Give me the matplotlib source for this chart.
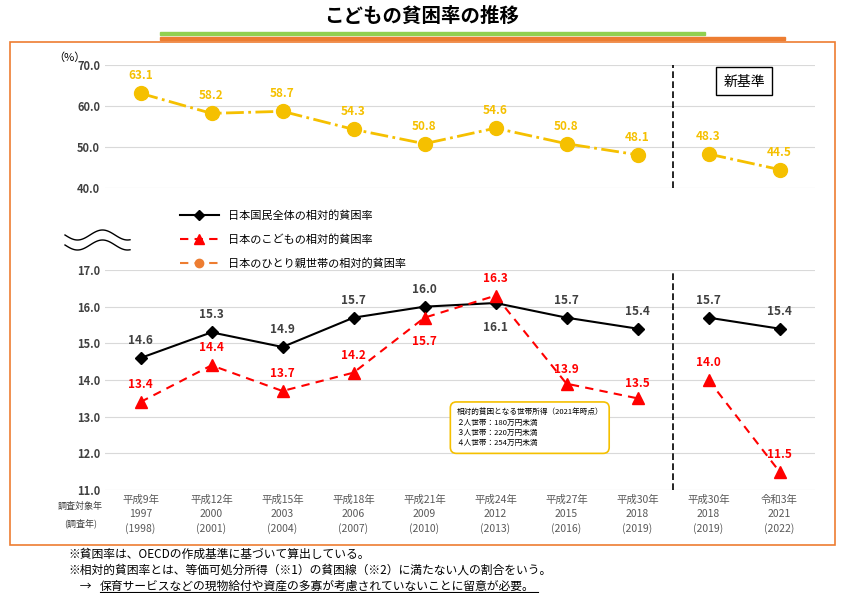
import numpy as np
import matplotlib.pyplot as plt
import matplotlib.patches as mpatches
from matplotlib.lines import Line2D

plt.rcParams["font.family"] = ["Noto Sans CJK JP", "DejaVu Sans"]

eras = ["平成9年", "平成12年", "平成15年", "平成18年", "平成21年", "平成24年",
        "平成27年", "平成30年", "平成30年", "令和3年"]
years = ["1997", "2000", "2003", "2006", "2009", "2012", "2015", "2018", "2018", "2021"]
surveys = ["(1998)", "(2001)", "(2004)", "(2007)", "(2010)", "(2013)",
           "(2016)", "(2019)", "(2019)", "(2022)"]
overall = [14.6, 15.3, 14.9, 15.7, 16.0, 16.1, 15.7, 15.4, 15.7, 15.4]
children = [13.4, 14.4, 13.7, 14.2, 15.7, 16.3, 13.9, 13.5, 14.0, 11.5]
single = [63.1, 58.2, 58.7, 54.3, 50.8, 54.6, 50.8, 48.1, 48.3, 44.5]


def main():
    fig = plt.figure(figsize=(8.43, 5.93), dpi=100)
    fig.patch.set_facecolor("white")
    x = np.arange(len(years))
    old, new = slice(0, 8), slice(8, 10)

    # frame and title
    fig.patches.append(mpatches.Rectangle((10 / 843, 1 - 545 / 593), 825 / 843, 503 / 593,
                                          transform=fig.transFigure, fill=False,
                                          edgecolor="#ED7D31", lw=1.2))
    fig.text(0.5, 1 - 16 / 593, "こどもの貧困率の推移", ha="center", va="center",
             fontsize=14, fontweight="bold")
    fig.patches.append(mpatches.Rectangle((160 / 843, 1 - 35 / 593), 545 / 843, 3 / 593,
                                          transform=fig.transFigure, color="#92D050"))
    fig.patches.append(mpatches.Rectangle((160 / 843, 1 - 40 / 593), 625 / 843, 3 / 593,
                                          transform=fig.transFigure, color="#ED7D31"))

    left, width = 105 / 843, 710 / 843
    ax1 = fig.add_axes([left, 1 - 188 / 593, width, 123 / 593])
    ax2 = fig.add_axes([left, 1 - 490 / 593, width, 220 / 593])

    for ax in (ax1, ax2):
        ax.set_xlim(-0.5, 9.5)
        for s in ax.spines.values():
            s.set_visible(False)
        ax.grid(axis="y", color="#D9D9D9", lw=0.8)
        ax.set_axisbelow(True)
        ax.tick_params(length=0, labelsize=8, colors="#404040")
        ax.axvline(7.5, color="black", ls=(0, (4, 2)), lw=1.2, clip_on=False)
    ax1.set_ylim(40, 70)
    ax1.set_yticks([40, 50, 60, 70])
    ax1.set_yticklabels(["40.0", "50.0", "60.0", "70.0"], fontweight="bold")
    ax1.set_xticks([])
    ax2.set_ylim(11, 17)
    ax2.set_yticks(range(11, 18))
    ax2.set_yticklabels([f"{v:.1f}" for v in range(11, 18)], fontweight="bold")
    ax2.set_xticks(x)
    ax2.set_xticklabels([f"{a}\n{b}\n{c}" for a, b, c in zip(eras, years, surveys)],
                        fontsize=7.5, color="#595959", linespacing=1.5)
    ax1.text(-0.05, 1.03, "（%）", transform=ax1.transAxes, fontsize=8, ha="center")

    gold = "#F5C000"
    for sl in (old, new):
        ax1.plot(x[sl], single[sl], color=gold, ls="-.", lw=2, marker="o", ms=10)
        ax2.plot(x[sl], overall[sl], color="black", lw=1.5, marker="D", ms=6)
        ax2.plot(x[sl], children[sl], color="#FF0000", ls=(0, (4, 3)), lw=1.5,
                 marker="^", ms=9)
    for i, v in enumerate(single):
        ax1.annotate(f"{v:.1f}", (i, v), xytext=(0, 10), textcoords="offset points",
                     ha="center", color=gold, fontsize=8.5, fontweight="bold")
    for i, v in enumerate(overall):
        dy = -20 if i == 5 else 10
        ax2.annotate(f"{v:.1f}", (i, v), xytext=(0, dy), textcoords="offset points",
                     ha="center", color="#404040", fontsize=8.5, fontweight="bold")
    for i, v in enumerate(children):
        dy = -20 if i == 4 else 10
        if i == 6 or i == 7:
            dy = 8
        ax2.annotate(f"{v:.1f}", (i, v), xytext=(0, dy), textcoords="offset points",
                     ha="center", color="#FF0000", fontsize=8.5, fontweight="bold")

    ax1.text(8.5, 66, "新基準", ha="center", va="center", fontsize=10,
             bbox=dict(boxstyle="square,pad=0.5", fc="white", ec="black"))
    ax2.text(4.45, 12.7, "相対的貧困となる世帯所得（2021年時点）\n２人世帯：180万円未満\n"
             "３人世帯：220万円未満\n４人世帯：254万円未満", fontsize=5.5, va="center",
             linespacing=1.4,
             bbox=dict(boxstyle="round,pad=0.8", fc="white", ec="#F5C000", lw=1.2))
    trans = ax2.get_xaxis_transform()
    ax2.text(-0.85, -0.075, "調査対象年", transform=trans, fontsize=6.5,
             ha="center", va="center", color="#404040")
    ax2.text(-0.85, -0.15, "(調査年)", transform=trans, fontsize=6.5,
             ha="center", va="center", color="#404040")

    # legend
    handles = [
        Line2D([], [], color="black", marker="D", ms=5, lw=1.5),
        Line2D([], [], color="#FF0000", marker="^", ms=7, ls=(0, (4, 3)), lw=1.5),
        Line2D([], [], color="#ED7D31", marker="o", ms=6, ls=(0, (4, 3)), lw=1.5),
    ]
    fig.legend(handles, ["日本国民全体の相対的貧困率", "日本のこどもの相対的貧困率",
                         "日本のひとり親世帯の相対的貧困率"],
               loc="upper left", bbox_to_anchor=(170 / 843, 1 - 200 / 593), frameon=False,
               fontsize=8, handlelength=3.5, labelspacing=1.2)
    t = np.linspace(0, 1, 100)
    for off in (0, 10):
        fig.add_artist(Line2D((65 + 65 * t) / 843,
                              1 - (235 + off + 5 * np.sin(t * 2 * np.pi * 1.3)) / 593,
                              color="black", lw=1))

    notes = ["※貧困率は、OECDの作成基準に基づいて算出している。",
             "※相対的貧困率とは、等価可処分所得（※1）の貧困線（※2）に満たない人の割合をいう。",
             "　→  "]
    for k, n in enumerate(notes):
        fig.text(68 / 843, 1 - (554 + 16 * k) / 593, n, fontsize=8.5, va="center")
    fig.text(100 / 843, 1 - 586 / 593, "保育サービスなどの現物給付や資産の多寡が考慮されていないことに留意が必要。",
             fontsize=8.5, va="center")
    fig.add_artist(Line2D([100 / 843, 538 / 843], [1 - 593 / 593 + 0.002] * 2,
                          color="black", lw=0.8))

    fig.savefig("out.png", dpi=100, facecolor=fig.get_facecolor())


if __name__ == "__main__":
    main()
